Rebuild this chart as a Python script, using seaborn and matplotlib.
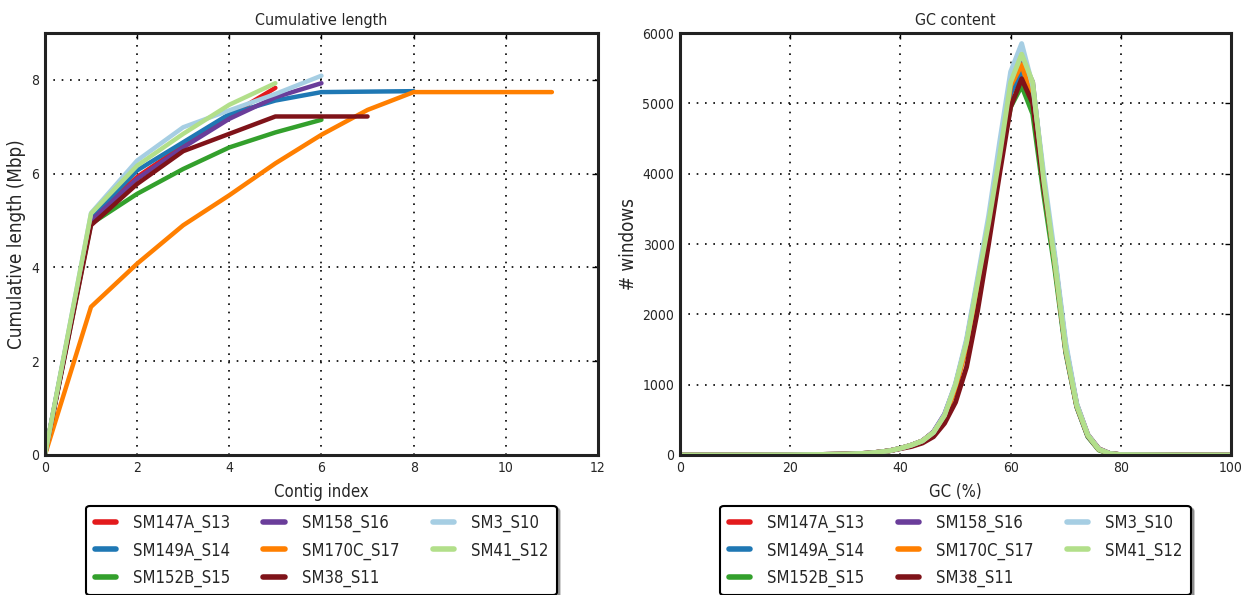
import numpy as np
import pandas as pd
import matplotlib
matplotlib.use("Agg")
import matplotlib.pyplot as plt
import seaborn as sns

# sample names and colours (legend order)
samples = ["SM147A_S13", "SM149A_S14", "SM152B_S15", "SM158_S16",
           "SM170C_S17", "SM38_S11", "SM3_S10", "SM41_S12"]
colors = ["#e31a1c", "#1f78b4", "#33a02c", "#6a3d9a",
          "#ff7f00", "#7f1319", "#a6cee3", "#b2df8a"]

# cumulative length (Mbp) per contig index
cum_len = {
    "SM147A_S13": [0, 5.04, 5.93, 6.60, 7.24, 7.83],
    "SM149A_S14": [0, 5.07, 6.07, 6.67, 7.27, 7.56, 7.74, 7.75, 7.76],
    "SM152B_S15": [0, 4.93, 5.57, 6.10, 6.56, 6.88, 7.15],
    "SM158_S16": [0, 5.00, 5.89, 6.56, 7.17, 7.63, 7.93],
    "SM170C_S17": [0, 3.16, 4.08, 4.90, 5.54, 6.22, 6.83, 7.36, 7.74, 7.74, 7.74, 7.74],
    "SM38_S11": [0, 4.90, 5.78, 6.48, 6.85, 7.22, 7.22, 7.22],
    "SM3_S10": [0, 5.16, 6.28, 6.99, 7.35, 7.70, 8.09],
    "SM41_S12": [0, 5.15, 6.17, 6.85, 7.47, 7.93],
}

# GC content histogram (# windows per GC %)
gc_pct = [0, 10, 20, 30, 34, 36, 38, 40, 42, 44, 46, 48, 50, 52, 54,
          56, 58, 60, 62, 64, 66, 68, 70, 72, 74, 76, 78, 80, 90, 100]
gc_windows = {
    "SM147A_S13": [0, 0, 2, 12, 25, 40, 60, 95, 140, 200, 320, 550, 980, 1580, 2420,
                   3280, 4250, 5150, 5500, 5050, 3850, 2750, 1500, 700, 280, 80, 20, 5, 0, 0],
    "SM149A_S14": [0, 0, 2, 12, 25, 40, 60, 95, 140, 200, 320, 560, 990, 1600, 2440,
                   3300, 4250, 5150, 5450, 5000, 3800, 2750, 1480, 690, 270, 80, 20, 5, 0, 0],
    "SM152B_S15": [0, 0, 2, 12, 25, 40, 60, 95, 140, 200, 320, 550, 970, 1570, 2400,
                   3250, 4150, 4950, 5250, 4850, 3700, 2650, 1450, 680, 260, 70, 18, 5, 0, 0],
    "SM158_S16": [0, 0, 2, 12, 25, 40, 60, 95, 140, 200, 330, 580, 1000, 1620, 2470,
                  3320, 4300, 5250, 5650, 5300, 3900, 2750, 1480, 690, 270, 80, 20, 5, 0, 0],
    "SM170C_S17": [0, 0, 2, 12, 25, 40, 60, 95, 140, 200, 320, 540, 950, 1550, 2380,
                   3250, 4250, 5250, 5550, 5050, 3850, 2750, 1500, 700, 280, 80, 20, 5, 0, 0],
    "SM38_S11": [0, 0, 2, 12, 25, 40, 60, 90, 120, 170, 260, 450, 750, 1250, 2050,
                 3000, 4000, 4950, 5350, 5000, 3800, 2800, 1550, 720, 290, 90, 22, 5, 0, 0],
    "SM3_S10": [0, 0, 2, 12, 25, 40, 60, 95, 140, 200, 320, 570, 1020, 1650, 2520,
                3400, 4450, 5450, 5850, 5250, 4000, 2850, 1600, 730, 290, 85, 22, 5, 0, 0],
    "SM41_S12": [0, 0, 2, 12, 25, 40, 60, 95, 140, 200, 320, 560, 1000, 1600, 2450,
                 3300, 4250, 5300, 5700, 5300, 3900, 2750, 1500, 700, 280, 80, 20, 5, 0, 0],
}

# long-form tables for seaborn
rows = []
for s in samples:
    for i, v in enumerate(cum_len[s]):
        rows.append({"sample": s, "index": i, "length": v})
len_df = pd.DataFrame(rows)

rows = []
for s in samples:
    for g, v in zip(gc_pct, gc_windows[s]):
        rows.append({"sample": s, "gc": g, "windows": v})
gc_df = pd.DataFrame(rows)

sns.set_style("white")
plt.rcParams["font.family"] = ["DejaVu Sans"]
plt.rcParams["font.stretch"] = "condensed"
plt.rcParams["xtick.direction"] = "in"
plt.rcParams["ytick.direction"] = "in"
plt.rcParams["xtick.top"] = True
plt.rcParams["ytick.right"] = True

fig = plt.figure(figsize=(12.45, 5.95), dpi=100)
ax1 = fig.add_axes([0.0361, 0.2353, 0.4442, 0.7092])
ax2 = fig.add_axes([0.5462, 0.2353, 0.4426, 0.7092])

sns.lineplot(data=len_df, x="index", y="length", hue="sample", hue_order=samples,
             palette=colors, linewidth=3.2, sort=False, estimator=None, ax=ax1, legend=False)
sns.lineplot(data=gc_df, x="gc", y="windows", hue="sample", hue_order=samples,
             palette=colors, linewidth=3.5, sort=False, estimator=None, ax=ax2, legend=False)

ax1.set_xlim(0, 12)
ax1.set_ylim(0, 9)
ax1.set_xticks(range(0, 13, 2))
ax1.set_yticks(range(0, 9, 2))
ax1.set_title("Cumulative length", fontsize=11.5, pad=6)
ax1.set_xlabel("Contig index", fontsize=12, labelpad=6)
ax1.set_ylabel("Cumulative length (Mbp)", fontsize=13.5, labelpad=4)

ax2.set_xlim(0, 100)
ax2.set_ylim(0, 6000)
ax2.set_xticks(range(0, 101, 20))
ax2.set_yticks(range(0, 6001, 1000))
ax2.set_title("GC content", fontsize=11.5, pad=6)
ax2.set_xlabel("GC (%)", fontsize=12, labelpad=6)
ax2.set_ylabel("# windows", fontsize=13.5, labelpad=3)

handles = [plt.Line2D([], [], color=c, linewidth=4) for c in colors]
for ax in (ax1, ax2):
    ax.grid(True, color="black", linestyle=(0, (1, 4)), linewidth=1.2)
    ax.tick_params(labelsize=10, length=4, width=1, color="black", pad=4)
    for sp in ax.spines.values():
        sp.set_linewidth(2.2)
        sp.set_color("#222222")
    leg = ax.legend(handles, samples, loc="upper center", bbox_to_anchor=(0.5, -0.10),
                    ncol=3, fontsize=12, frameon=True, fancybox=True, shadow=True,
                    handlelength=1.3, handletextpad=1.0, columnspacing=2.0,
                    labelspacing=0.55, borderpad=0.5)
    leg.get_frame().set_edgecolor("black")
    leg.get_frame().set_linewidth(1.5)

plt.savefig("out.png", dpi=100)
plt.close()
